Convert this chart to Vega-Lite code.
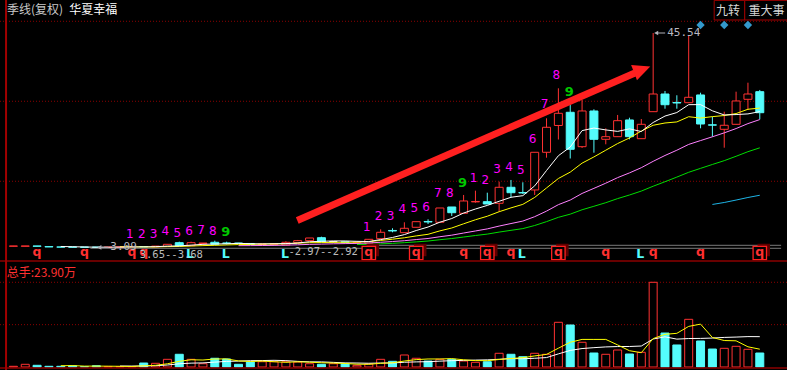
{
  "$schema": "https://vega.github.io/schema/vega-lite/v6.json",
  "background": "#000000",
  "padding": 0,
  "autosize": {"type": "none"},
  "width": 787,
  "height": 370,
  "config": {"view": {"stroke": null}, "text": {"font": "DejaVu Sans"}},
  "resolve": {"scale": {"y": "independent", "fill": "independent", "stroke": "independent", "color": "independent"}},
  "datasets": {
    "k": [
      {"i":0,"o":3.31,"c":3.37,"h":3.37,"l":3.31,"t":"r","v":1.2},
      {"i":1,"o":3.31,"c":3.37,"h":3.37,"l":3.31,"t":"r","v":4.6},
      {"i":2,"o":3.37,"c":3.31,"h":3.37,"l":3.31,"t":"c","v":2.9},
      {"i":3,"o":3.24,"c":3.18,"h":3.24,"l":3.18,"t":"c","v":1.2},
      {"i":4,"o":3.18,"c":3.14,"h":3.18,"l":3.13,"t":"c","v":1.2,"m5":3.27,"v5":2.2},
      {"i":5,"o":3.16,"c":3.12,"h":3.17,"l":3.11,"t":"c","v":2.2,"m5":3.22,"v5":2.4},
      {"i":6,"o":3.15,"c":3.11,"h":3.16,"l":3.10,"t":"c","v":0.5,"m5":3.17,"v5":1.5},
      {"i":7,"o":3.14,"c":3.11,"h":3.16,"l":3.09,"t":"c","v":2.2,"m5":3.13,"v5":1.5},
      {"i":8,"o":3.11,"c":3.15,"h":3.16,"l":3.10,"t":"r","v":0.5,"m5":3.13,"v5":1.4},
      {"i":9,"o":3.15,"c":3.20,"h":3.21,"l":3.14,"t":"r","v":0.5,"m5":3.14,"m10":3.21,"v5":1.2,"v10":1.7},
      {"i":10,"o":3.20,"c":3.26,"h":3.27,"l":3.19,"t":"r","v":0.5,"m5":3.17,"m10":3.20,"v5":0.9,"v10":1.6},
      {"i":11,"o":3.26,"c":3.21,"h":3.27,"l":3.20,"t":"c","v":6.8,"m5":3.19,"m10":3.18,"v5":2.0,"v10":1.8},
      {"i":12,"o":3.21,"c":3.34,"h":3.35,"l":3.20,"t":"r","v":6.3,"m5":3.23,"m10":3.18,"v5":2.9,"v10":2.2},
      {"i":13,"o":3.27,"c":3.70,"h":3.70,"l":3.27,"t":"r","v":13.1,"m5":3.34,"m10":3.24,"v5":5.5,"v10":3.4},
      {"i":14,"o":4.02,"c":3.43,"h":4.22,"l":3.43,"t":"c","v":21.7,"m5":3.39,"m10":3.27,"v5":9.7,"v10":5.5},
      {"i":15,"o":3.43,"c":4.02,"h":4.22,"l":3.43,"t":"r","v":13.1,"m5":3.54,"m10":3.36,"v5":12.3,"v10":6.6},
      {"i":16,"o":3.86,"c":3.96,"h":3.96,"l":3.86,"t":"r","v":5.6,"m5":3.69,"m10":3.44,"v5":11.9,"v10":7.0},
      {"i":17,"o":4.10,"c":3.70,"h":4.42,"l":3.70,"t":"c","v":14.9,"m5":3.76,"m10":3.50,"v5":13.7,"v10":8.3},
      {"i":18,"o":3.96,"c":3.90,"h":4.22,"l":3.66,"t":"c","v":13.7,"m5":3.80,"m10":3.57,"v5":13.8,"v10":9.6},
      {"i":19,"o":3.96,"c":3.86,"h":3.96,"l":3.86,"t":"c","v":4.6,"m5":3.89,"m10":3.64,"m20":3.43,"v5":10.4,"v10":10.1},
      {"i":20,"o":3.86,"c":3.66,"h":3.86,"l":3.66,"t":"c","v":8.5,"m5":3.82,"m10":3.68,"m20":3.44,"v5":9.4,"v10":10.8},
      {"i":21,"o":3.66,"c":3.76,"h":3.76,"l":3.66,"t":"r","v":9.0,"m5":3.78,"m10":3.74,"m20":3.46,"v5":10.1,"v10":11.0},
      {"i":22,"o":3.70,"c":3.82,"h":3.82,"l":3.70,"t":"r","v":9.0,"m5":3.80,"m10":3.78,"m20":3.48,"v5":9.0,"v10":11.4},
      {"i":23,"o":3.56,"c":4.10,"h":4.30,"l":3.56,"t":"r","v":9.0,"m5":3.84,"m10":3.82,"m20":3.53,"v5":8.0,"v10":10.9},
      {"i":24,"o":4.02,"c":4.42,"h":4.56,"l":4.02,"t":"r","v":8.5,"m5":3.95,"m10":3.92,"m20":3.60,"v5":8.9,"v10":9.6},
      {"i":25,"o":4.42,"c":4.95,"h":4.95,"l":4.42,"t":"r","v":5.6,"m5":4.21,"m10":4.02,"m20":3.69,"v5":8.2,"v10":8.8},
      {"i":26,"o":5.01,"c":4.16,"h":5.21,"l":4.16,"t":"c","v":4.6,"m5":4.29,"m10":4.04,"m20":3.74,"v5":7.3,"v10":8.7},
      {"i":27,"o":4.20,"c":4.20,"h":4.30,"l":4.02,"t":"w","v":5.6,"m5":4.37,"m10":4.09,"m20":3.80,"v5":6.7,"v10":7.9},
      {"i":28,"o":4.20,"c":4.06,"h":4.20,"l":4.06,"t":"c","v":5.1,"m5":4.36,"m10":4.10,"m20":3.84,"v5":6.0,"v10":7.0},
      {"i":29,"o":4.02,"c":4.10,"h":4.10,"l":4.02,"t":"r","v":2.9,"m5":4.29,"m10":4.12,"m20":3.88,"m30":3.66,"v5":4.8,"v10":6.8},
      {"i":30,"o":3.90,"c":4.69,"h":4.75,"l":3.90,"t":"r","v":5.1,"m5":4.24,"m10":4.23,"m20":3.96,"m30":3.70,"v5":4.6,"v10":6.4},
      {"i":31,"o":4.81,"c":6.08,"h":6.67,"l":4.81,"t":"r","v":13.1,"m5":4.63,"m10":4.46,"m20":4.10,"m30":3.79,"v5":6.3,"v10":6.8},
      {"i":32,"o":6.44,"c":6.34,"h":6.87,"l":6.08,"t":"c","v":9.7,"m5":5.05,"m10":4.71,"m20":4.25,"m30":3.89,"v5":7.2,"v10":6.9},
      {"i":33,"o":6.00,"c":6.87,"h":8.06,"l":6.00,"t":"r","v":20.5,"m5":5.62,"m10":4.99,"m20":4.41,"m30":4.02,"v5":10.2,"v10":8.1},
      {"i":34,"o":7.07,"c":8.18,"h":8.18,"l":7.07,"t":"r","v":14.9,"m5":6.43,"m10":5.36,"m20":4.64,"m30":4.18,"v5":12.6,"v10":8.7},
      {"i":35,"o":8.22,"c":8.12,"h":8.65,"l":7.72,"t":"c","v":10.2,"m5":7.12,"m10":5.68,"m20":4.85,"m30":4.35,"v5":13.7,"v10":9.1},
      {"i":36,"o":8.06,"c":10.89,"h":10.89,"l":8.06,"t":"r","v":13.1,"m5":8.08,"m10":6.36,"m20":5.20,"m30":4.61,"v5":13.7,"v10":10.0},
      {"i":37,"o":11.09,"c":9.96,"h":11.09,"l":9.31,"t":"c","v":13.1,"m5":8.80,"m10":6.93,"m20":5.51,"m30":4.84,"v5":14.3,"v10":10.8},
      {"i":38,"o":9.84,"c":12.28,"h":13.47,"l":9.84,"t":"r","v":10.2,"m5":9.89,"m10":7.76,"m20":5.93,"m30":5.14,"v5":12.3,"v10":11.3},
      {"i":39,"o":12.10,"c":12.18,"h":14.32,"l":11.94,"t":"r","v":8.0,"m5":10.69,"m10":8.56,"m20":6.34,"m30":5.44,"v5":10.9,"v10":11.8},
      {"i":40,"o":12.14,"c":11.68,"h":13.92,"l":11.68,"t":"c","v":9.0,"m5":11.40,"m10":9.26,"m20":6.75,"m30":5.72,"v5":10.8,"v10":12.2},
      {"i":41,"o":11.82,"c":14.99,"h":16.10,"l":10.16,"t":"r","v":23.4,"m5":12.22,"m10":10.15,"m20":7.31,"m30":6.12,"v5":12.8,"v10":13.2},
      {"i":42,"o":14.99,"c":13.92,"h":16.44,"l":13.01,"t":"c","v":21.7,"m5":13.01,"m10":10.91,"m20":7.81,"m30":6.47,"v5":14.5,"v10":14.4},
      {"i":43,"o":13.96,"c":13.86,"h":15.98,"l":13.66,"t":"c","v":17.6,"m5":13.33,"m10":11.61,"m20":8.30,"m30":6.81,"v5":15.9,"v10":14.1},
      {"i":44,"o":14.46,"c":21.92,"h":21.92,"l":13.47,"t":"r","v":23.4,"m5":15.27,"m10":12.98,"m20":9.17,"m30":7.42,"v5":18.9,"v10":14.9},
      {"i":45,"o":21.92,"c":26.87,"h":28.65,"l":20.85,"t":"r","v":21.7,"m5":18.31,"m10":14.86,"m20":10.27,"m30":8.19,"v5":21.5,"v10":16.1},
      {"i":46,"o":27.23,"c":29.64,"h":34.59,"l":24.45,"t":"r","v":76.3,"m5":21.24,"m10":16.73,"m20":11.55,"m30":9.04,"v5":32.1,"v10":22.4},
      {"i":47,"o":29.84,"c":22.51,"h":31.29,"l":20.69,"t":"c","v":71.7,"m5":22.96,"m10":17.99,"m20":12.46,"m30":9.67,"v5":42.2,"v10":28.3},
      {"i":48,"o":23.03,"c":30.10,"h":32.28,"l":22.77,"t":"r","v":42.2,"m5":26.21,"m10":19.77,"m20":13.77,"m30":10.54,"v5":47.1,"v10":31.5},
      {"i":49,"o":30.10,"c":24.49,"h":30.43,"l":21.84,"t":"c","v":23.9,"m5":26.72,"m10":21.00,"m20":14.78,"m30":11.23,"v5":47.1,"v10":33.0},
      {"i":50,"o":24.49,"c":25.01,"h":26.67,"l":23.50,"t":"r","v":21.7,"m5":26.35,"m10":22.33,"m20":15.80,"m30":11.94,"v5":47.1,"v10":34.3},
      {"i":51,"o":25.01,"c":28.18,"h":29.31,"l":25.01,"t":"r","v":29.0,"m5":26.06,"m10":23.65,"m20":16.90,"m30":12.75,"v5":37.7,"v10":34.9},
      {"i":52,"o":28.32,"c":25.01,"h":28.77,"l":24.49,"t":"c","v":22.2,"m5":26.56,"m10":24.76,"m20":17.84,"m30":13.46,"v5":27.8,"v10":35.0},
      {"i":53,"o":24.61,"c":27.46,"h":28.51,"l":24.61,"t":"r","v":25.1,"m5":26.03,"m10":26.12,"m20":18.87,"m30":14.24,"v5":24.4,"v10":35.8},
      {"i":54,"o":29.96,"c":33.46,"h":45.54,"l":29.96,"t":"r","v":144.6,"m5":27.82,"m10":27.27,"m20":20.13,"m30":15.20,"v5":48.5,"v10":47.8},
      {"i":55,"o":33.46,"c":31.34,"h":34.06,"l":30.55,"t":"c","v":58.0,"m5":29.09,"m10":27.72,"m20":21.29,"m30":16.09,"v5":55.8,"v10":51.5},
      {"i":56,"o":31.78,"c":31.68,"h":33.21,"l":30.55,"t":"c","v":37.6,"m5":29.79,"m10":27.93,"m20":22.33,"m30":17.01,"v5":57.5,"v10":47.6},
      {"i":57,"o":31.74,"c":32.81,"h":45.05,"l":31.74,"t":"r","v":81.4,"m5":31.35,"m10":28.96,"m20":23.48,"m30":17.96,"v5":69.3,"v10":48.6},
      {"i":58,"o":33.27,"c":27.52,"h":33.72,"l":26.67,"t":"c","v":44.4,"m5":31.36,"m10":28.70,"m20":24.24,"m30":18.74,"v5":73.2,"v10":48.8},
      {"i":59,"o":27.36,"c":27.29,"h":28.97,"l":25.01,"t":"c","v":30.7,"m5":30.13,"m10":28.98,"m20":24.99,"m30":19.51,"m60":11.59,"v5":50.4,"v10":49.4},
      {"i":60,"o":26.47,"c":27.27,"h":29.96,"l":22.83,"t":"r","v":31.9,"m5":29.31,"m10":29.20,"m20":25.77,"m30":20.26,"m60":11.98,"v5":45.2,"v10":50.5},
      {"i":61,"o":27.46,"c":32.08,"h":33.92,"l":27.46,"t":"r","v":35.3,"m5":29.39,"m10":29.59,"m20":26.62,"m30":21.13,"m60":12.46,"v5":44.7,"v10":51.1},
      {"i":62,"o":32.41,"c":33.46,"h":35.70,"l":30.30,"t":"r","v":30.2,"m5":29.52,"m10":30.44,"m20":27.60,"m30":22.04,"m60":12.97,"v5":34.5,"v10":51.9},
      {"i":63,"o":33.92,"c":29.76,"h":34.26,"l":28.45,"t":"c","v":23.9,"m5":29.97,"m10":30.67,"m20":28.40,"m30":22.80,"m60":13.41,"v5":30.4,"v10":51.8}
    ],
    "nine": [
      {"i":10,"n":"1","p":5.74},{"i":11,"n":"2","p":5.74},{"i":12,"n":"3","p":5.74},{"i":13,"n":"4","p":6.40},{"i":14,"n":"5","p":5.94},{"i":15,"n":"6","p":6.34},{"i":16,"n":"7","p":6.54},{"i":17,"n":"8","p":6.34},{"i":18,"n":"9","p":6.04},
      {"i":30,"n":"1","p":7.19},{"i":31,"n":"2","p":9.31},{"i":32,"n":"3","p":9.31},{"i":33,"n":"4","p":10.69},{"i":34,"n":"5","p":10.89},{"i":35,"n":"6","p":11.03},{"i":36,"n":"7","p":13.80},{"i":37,"n":"8","p":13.80},{"i":38,"n":"9","p":15.78},
      {"i":39,"n":"1","p":16.89},{"i":40,"n":"2","p":16.44},{"i":41,"n":"3","p":18.55},{"i":42,"n":"4","p":18.95},{"i":43,"n":"5","p":18.41},{"i":44,"n":"6","p":24.49},{"i":45,"n":"7","p":31.42},{"i":46,"n":"8","p":37.23},{"i":47,"n":"9","p":33.80}
    ],
    "mk": [
      {"i":2,"s":"q"},{"i":6,"s":"q"},{"i":10,"s":"q"},{"i":11,"s":"q"},{"i":30,"s":"q","b":1},{"i":34,"s":"q","b":1},{"i":38,"s":"q"},{"i":40,"s":"q","b":1},{"i":42,"s":"q"},{"i":46,"s":"q","b":1},{"i":50,"s":"q"},{"i":54,"s":"q"},{"i":58,"s":"q"},{"i":63,"s":"q","b":1},
      {"i":15,"s":"L"},{"i":18,"s":"L"},{"i":23,"s":"L"},{"i":43,"s":"L"},{"i":53,"s":"L"}
    ],
    "hilo": [{"i":54,"p":45.54,"s":"45.54"},{"i":7,"p":3.09,"s":"3.09"}],
    "grid": [{"p":47.86},{"p":32.02},{"p":16.18}],
    "glines": [{"i":6.5,"i2":64.8,"p":2.91},{"i":30,"i2":64.8,"p":3.50}],
    "arrow": [{"i":23.96,"p":8.42},{"i":52.46,"p":37.62}],
    "ahead": [{"i":53.07,"p":38.29}],
    "dia": [{"i":58},{"i":60},{"i":62}],
    "boxes": [{"i":59.15,"i2":61.73,"p":52.0,"p2":48.115},{"i":61.73,"i2":65.5,"p":52.0,"p2":48.115}],
    "btxt": [{"i":59.3,"p":49.86,"s":"九转"},{"i":62.05,"p":49.86,"s":"重大事"}]
  },
  "layer": [
    {
      "data": {"name": "grid"},
      "mark": {"type": "rule", "color": "#8B0000", "strokeWidth": 1, "strokeDash": [1, 2]},
      "encoding": {"y": {"field": "p", "type": "quantitative", "scale": {"domain": [-21.19, 52.075], "nice": false, "zero": false}, "axis": null}}
    },
    {
      "data": {"values": [{"v": 144.6}, {"v": 72.3}]},
      "mark": {"type": "rule", "color": "#8B0000", "strokeWidth": 1, "strokeDash": [1, 2]},
      "encoding": {"y": {"field": "v", "type": "quantitative", "scale": {"domain": [-5.12, 626.5], "nice": false, "zero": false}, "axis": null}}
    },
    {
      "data": {"name": "glines"},
      "mark": {"type": "rule", "color": "#7A7A7A", "strokeWidth": 1},
      "encoding": {
        "x": {"field": "i", "type": "quantitative", "scale": {"domain": [-0.7083, 64.875], "nice": false, "zero": false}, "axis": null},
        "x2": {"field": "i2"},
        "y": {"field": "p", "type": "quantitative", "scale": {"domain": [-21.19, 52.075], "nice": false, "zero": false}, "axis": null}
      }
    },
    {
      "data": {"name": "k"},
      "mark": {"type": "rule", "strokeWidth": 1},
      "encoding": {
        "x": {"field": "i", "type": "quantitative", "scale": {"domain": [-0.7083, 64.875], "nice": false, "zero": false}, "axis": null},
        "y": {"field": "l", "type": "quantitative", "scale": {"domain": [-21.19, 52.075], "nice": false, "zero": false}, "axis": null},
        "y2": {"field": "h"},
        "color": {"field": "t", "type": "nominal", "scale": {"domain": ["r", "c", "w"], "range": ["#FF3232", "#54FCFC", "#FFFFFF"]}, "legend": null}
      }
    },
    {
      "data": {"name": "k"},
      "mark": {"type": "bar", "size": 8, "strokeWidth": 1},
      "encoding": {
        "x": {"field": "i", "type": "quantitative", "scale": {"domain": [-0.7083, 64.875], "nice": false, "zero": false}, "axis": null},
        "y": {"field": "o", "type": "quantitative", "scale": {"domain": [-21.19, 52.075], "nice": false, "zero": false}, "axis": null},
        "y2": {"field": "c"},
        "fill": {"field": "t", "type": "nominal", "scale": {"domain": ["r", "c", "w"], "range": ["#000000", "#54FCFC", "#FFFFFF"]}, "legend": null},
        "stroke": {"field": "t", "type": "nominal", "scale": {"domain": ["r", "c", "w"], "range": ["#FF3232", "#54FCFC", "#FFFFFF"]}, "legend": null}
      }
    },
    {
      "data": {"name": "k"},
      "mark": {"type": "line", "color": "#1EB4E6", "strokeWidth": 1},
      "encoding": {
        "x": {"field": "i", "type": "quantitative", "scale": {"domain": [-0.7083, 64.875], "nice": false, "zero": false}, "axis": null},
        "y": {"field": "m60", "type": "quantitative", "scale": {"domain": [-21.19, 52.075], "nice": false, "zero": false}, "axis": null}
      }
    },
    {
      "data": {"name": "k"},
      "mark": {"type": "line", "color": "#00DD00", "strokeWidth": 1},
      "encoding": {
        "x": {"field": "i", "type": "quantitative", "scale": {"domain": [-0.7083, 64.875], "nice": false, "zero": false}, "axis": null},
        "y": {"field": "m30", "type": "quantitative", "scale": {"domain": [-21.19, 52.075], "nice": false, "zero": false}, "axis": null}
      }
    },
    {
      "data": {"name": "k"},
      "mark": {"type": "line", "color": "#FF80FF", "strokeWidth": 1},
      "encoding": {
        "x": {"field": "i", "type": "quantitative", "scale": {"domain": [-0.7083, 64.875], "nice": false, "zero": false}, "axis": null},
        "y": {"field": "m20", "type": "quantitative", "scale": {"domain": [-21.19, 52.075], "nice": false, "zero": false}, "axis": null}
      }
    },
    {
      "data": {"name": "k"},
      "mark": {"type": "line", "color": "#FFFF00", "strokeWidth": 1},
      "encoding": {
        "x": {"field": "i", "type": "quantitative", "scale": {"domain": [-0.7083, 64.875], "nice": false, "zero": false}, "axis": null},
        "y": {"field": "m10", "type": "quantitative", "scale": {"domain": [-21.19, 52.075], "nice": false, "zero": false}, "axis": null}
      }
    },
    {
      "data": {"name": "k"},
      "mark": {"type": "line", "color": "#FFFFFF", "strokeWidth": 1},
      "encoding": {
        "x": {"field": "i", "type": "quantitative", "scale": {"domain": [-0.7083, 64.875], "nice": false, "zero": false}, "axis": null},
        "y": {"field": "m5", "type": "quantitative", "scale": {"domain": [-21.19, 52.075], "nice": false, "zero": false}, "axis": null}
      }
    },
    {
      "data": {"name": "nine"},
      "transform": [{"filter": "datum.n != '9'"}],
      "mark": {"type": "text", "font": "DejaVu Sans", "fontSize": 12, "color": "#FF00FF", "dx": -2, "baseline": "middle"},
      "encoding": {
        "x": {"field": "i", "type": "quantitative", "scale": {"domain": [-0.7083, 64.875], "nice": false, "zero": false}, "axis": null},
        "y": {"field": "p", "type": "quantitative", "scale": {"domain": [-21.19, 52.075], "nice": false, "zero": false}, "axis": null},
        "text": {"field": "n"}
      }
    },
    {
      "data": {"name": "nine"},
      "transform": [{"filter": "datum.n == '9'"}],
      "mark": {"type": "text", "font": "DejaVu Sans", "fontSize": 13, "fontWeight": "bold", "color": "#00C800", "dx": -1, "baseline": "middle"},
      "encoding": {
        "x": {"field": "i", "type": "quantitative", "scale": {"domain": [-0.7083, 64.875], "nice": false, "zero": false}, "axis": null},
        "y": {"field": "p", "type": "quantitative", "scale": {"domain": [-21.19, 52.075], "nice": false, "zero": false}, "axis": null},
        "text": {"field": "n"}
      }
    },
    {
      "data": {"name": "mk"},
      "transform": [{"filter": "datum.b == 1"}],
      "mark": {"type": "point", "shape": "square", "filled": true, "size": 156, "color": "#5C0000", "opacity": 1, "xOffset": 4, "yOffset": -3},
      "encoding": {
        "x": {"field": "i", "type": "quantitative", "scale": {"domain": [-0.7083, 64.875], "nice": false, "zero": false}, "axis": null},
        "y": {"datum": 1.98, "type": "quantitative", "scale": {"domain": [-21.19, 52.075], "nice": false, "zero": false}, "axis": null}
      }
    },
    {
      "data": {"name": "mk"},
      "transform": [{"filter": "datum.b == 1"}],
      "mark": {"type": "point", "shape": "square", "filled": true, "size": 180, "fill": "#000000", "stroke": "#FF2020", "strokeWidth": 1.3, "opacity": 1},
      "encoding": {
        "x": {"field": "i", "type": "quantitative", "scale": {"domain": [-0.7083, 64.875], "nice": false, "zero": false}, "axis": null},
        "y": {"datum": 1.98, "type": "quantitative", "scale": {"domain": [-21.19, 52.075], "nice": false, "zero": false}, "axis": null}
      }
    },
    {
      "data": {"name": "mk"},
      "transform": [{"filter": "datum.s == 'q'"}],
      "mark": {"type": "text", "font": "DejaVu Sans", "fontSize": 12.5, "fontWeight": "bold", "color": "#FF3030", "baseline": "alphabetic"},
      "encoding": {
        "x": {"field": "i", "type": "quantitative", "scale": {"domain": [-0.7083, 64.875], "nice": false, "zero": false}, "axis": null},
        "y": {"datum": 1.29, "type": "quantitative", "scale": {"domain": [-21.19, 52.075], "nice": false, "zero": false}, "axis": null},
        "text": {"field": "s"}
      }
    },
    {
      "data": {"name": "mk"},
      "transform": [{"filter": "datum.s == 'L'"}],
      "mark": {"type": "text", "font": "DejaVu Sans", "fontSize": 12.5, "fontWeight": "bold", "color": "#54FCFC", "baseline": "alphabetic", "dx": -1},
      "encoding": {
        "x": {"field": "i", "type": "quantitative", "scale": {"domain": [-0.7083, 64.875], "nice": false, "zero": false}, "axis": null},
        "y": {"datum": 0.93, "type": "quantitative", "scale": {"domain": [-21.19, 52.075], "nice": false, "zero": false}, "axis": null},
        "text": {"field": "s"}
      }
    },
    {
      "data": {"values": [{"i": 11, "s": "3.65--3.68"}]},
      "mark": {"type": "text", "font": "DejaVu Sans Mono", "fontSize": 10.5, "color": "#BBBBBB", "align": "left", "baseline": "alphabetic", "dx": -4},
      "encoding": {
        "x": {"field": "i", "type": "quantitative", "scale": {"domain": [-0.7083, 64.875], "nice": false, "zero": false}, "axis": null},
        "y": {"datum": 0.93, "type": "quantitative", "scale": {"domain": [-21.19, 52.075], "nice": false, "zero": false}, "axis": null},
        "text": {"field": "s"}
      }
    },
    {
      "data": {"values": [{"i": 23, "s": "-2.97--2.92"}]},
      "mark": {"type": "text", "font": "DejaVu Sans Mono", "fontSize": 10.5, "color": "#BBBBBB", "align": "left", "baseline": "alphabetic", "dx": 2.5},
      "encoding": {
        "x": {"field": "i", "type": "quantitative", "scale": {"domain": [-0.7083, 64.875], "nice": false, "zero": false}, "axis": null},
        "y": {"datum": 1.59, "type": "quantitative", "scale": {"domain": [-21.19, 52.075], "nice": false, "zero": false}, "axis": null},
        "text": {"field": "s"}
      }
    },
    {
      "data": {"name": "hilo"},
      "mark": {"type": "rule", "color": "#B0B0B8", "strokeWidth": 1, "xOffset": 3, "x2Offset": 12},
      "encoding": {
        "x": {"field": "i", "type": "quantitative", "scale": {"domain": [-0.7083, 64.875], "nice": false, "zero": false}, "axis": null},
        "x2": {"field": "i"},
        "y": {"field": "p", "type": "quantitative", "scale": {"domain": [-21.19, 52.075], "nice": false, "zero": false}, "axis": null}
      }
    },
    {
      "data": {"name": "hilo"},
      "mark": {"type": "point", "shape": "triangle-left", "filled": true, "size": 22, "color": "#B0B0B8", "opacity": 1, "xOffset": 3},
      "encoding": {
        "x": {"field": "i", "type": "quantitative", "scale": {"domain": [-0.7083, 64.875], "nice": false, "zero": false}, "axis": null},
        "y": {"field": "p", "type": "quantitative", "scale": {"domain": [-21.19, 52.075], "nice": false, "zero": false}, "axis": null}
      }
    },
    {
      "data": {"name": "hilo"},
      "mark": {"type": "text", "font": "DejaVu Sans Mono", "fontSize": 11, "color": "#B8B8C0", "align": "left", "baseline": "middle", "dx": 14},
      "encoding": {
        "x": {"field": "i", "type": "quantitative", "scale": {"domain": [-0.7083, 64.875], "nice": false, "zero": false}, "axis": null},
        "y": {"field": "p", "type": "quantitative", "scale": {"domain": [-21.19, 52.075], "nice": false, "zero": false}, "axis": null},
        "text": {"field": "s"}
      }
    },
    {
      "data": {"name": "arrow"},
      "mark": {"type": "line", "color": "#FF2020", "strokeWidth": 7, "strokeCap": "butt"},
      "encoding": {
        "x": {"field": "i", "type": "quantitative", "scale": {"domain": [-0.7083, 64.875], "nice": false, "zero": false}, "axis": null},
        "y": {"field": "p", "type": "quantitative", "scale": {"domain": [-21.19, 52.075], "nice": false, "zero": false}, "axis": null}
      }
    },
    {
      "data": {"name": "ahead"},
      "mark": {"type": "point", "shape": "M-1,-0.94L1,0L-1,0.94Z", "filled": true, "size": 300, "angle": -21, "color": "#FF2020", "opacity": 1},
      "encoding": {
        "x": {"field": "i", "type": "quantitative", "scale": {"domain": [-0.7083, 64.875], "nice": false, "zero": false}, "axis": null},
        "y": {"field": "p", "type": "quantitative", "scale": {"domain": [-21.19, 52.075], "nice": false, "zero": false}, "axis": null}
      }
    },
    {
      "data": {"name": "dia"},
      "mark": {"type": "point", "shape": "diamond", "filled": true, "size": 70, "color": "#3399CC", "opacity": 1},
      "encoding": {
        "x": {"field": "i", "type": "quantitative", "scale": {"domain": [-0.7083, 64.875], "nice": false, "zero": false}, "axis": null},
        "y": {"datum": 47.13, "type": "quantitative", "scale": {"domain": [-21.19, 52.075], "nice": false, "zero": false}, "axis": null}
      }
    },
    {
      "data": {"name": "boxes"},
      "mark": {"type": "rect", "fill": "#000000", "stroke": "#A00000", "strokeWidth": 1},
      "encoding": {
        "x": {"field": "i", "type": "quantitative", "scale": {"domain": [-0.7083, 64.875], "nice": false, "zero": false}, "axis": null},
        "x2": {"field": "i2"},
        "y": {"field": "p", "type": "quantitative", "scale": {"domain": [-21.19, 52.075], "nice": false, "zero": false}, "axis": null},
        "y2": {"field": "p2"}
      }
    },
    {
      "data": {"name": "btxt"},
      "mark": {"type": "text", "font": "Noto Sans CJK SC", "fontSize": 12, "color": "#D8D8D8", "align": "left", "baseline": "middle"},
      "encoding": {
        "x": {"field": "i", "type": "quantitative", "scale": {"domain": [-0.7083, 64.875], "nice": false, "zero": false}, "axis": null},
        "y": {"field": "p", "type": "quantitative", "scale": {"domain": [-21.19, 52.075], "nice": false, "zero": false}, "axis": null},
        "text": {"field": "s"}
      }
    },
    {
      "data": {"values": [{"i": -0.54, "s": "季线(复权)"}]},
      "mark": {"type": "text", "font": "Noto Sans CJK SC", "fontSize": 12, "color": "#C8C8C8", "align": "left", "baseline": "middle"},
      "encoding": {
        "x": {"field": "i", "type": "quantitative", "scale": {"domain": [-0.7083, 64.875], "nice": false, "zero": false}, "axis": null},
        "y": {"datum": 50.1, "type": "quantitative", "scale": {"domain": [-21.19, 52.075], "nice": false, "zero": false}, "axis": null},
        "text": {"field": "s"}
      }
    },
    {
      "data": {"values": [{"i": 4.71, "s": "华夏幸福"}]},
      "mark": {"type": "text", "font": "Noto Sans CJK SC", "fontSize": 12, "color": "#FFFFFF", "align": "left", "baseline": "middle"},
      "encoding": {
        "x": {"field": "i", "type": "quantitative", "scale": {"domain": [-0.7083, 64.875], "nice": false, "zero": false}, "axis": null},
        "y": {"datum": 50.1, "type": "quantitative", "scale": {"domain": [-21.19, 52.075], "nice": false, "zero": false}, "axis": null},
        "text": {"field": "s"}
      }
    },
    {
      "data": {"values": [{}]},
      "mark": {"type": "rule", "color": "#8B0000", "strokeWidth": 1.5},
      "encoding": {"y": {"datum": 0.40, "type": "quantitative", "scale": {"domain": [-21.19, 52.075], "nice": false, "zero": false}, "axis": null}}
    },
    {
      "data": {"name": "k"},
      "mark": {"type": "bar", "size": 8, "strokeWidth": 1},
      "encoding": {
        "x": {"field": "i", "type": "quantitative", "scale": {"domain": [-0.7083, 64.875], "nice": false, "zero": false}, "axis": null},
        "y": {"field": "v", "type": "quantitative", "stack": null, "scale": {"domain": [-5.12, 626.5], "nice": false, "zero": false}, "axis": null},
        "y2": {"datum": 0},
        "fill": {"field": "t", "type": "nominal", "scale": {"domain": ["r", "c", "w"], "range": ["#000000", "#54FCFC", "#000000"]}, "legend": null},
        "stroke": {"field": "t", "type": "nominal", "scale": {"domain": ["r", "c", "w"], "range": ["#FF3232", "#54FCFC", "#FF3232"]}, "legend": null}
      }
    },
    {
      "data": {"name": "k"},
      "mark": {"type": "line", "color": "#FFFFFF", "strokeWidth": 1},
      "encoding": {
        "x": {"field": "i", "type": "quantitative", "scale": {"domain": [-0.7083, 64.875], "nice": false, "zero": false}, "axis": null},
        "y": {"field": "v10", "type": "quantitative", "scale": {"domain": [-5.12, 626.5], "nice": false, "zero": false}, "axis": null}
      }
    },
    {
      "data": {"name": "k"},
      "mark": {"type": "line", "color": "#FFFF00", "strokeWidth": 1},
      "encoding": {
        "x": {"field": "i", "type": "quantitative", "scale": {"domain": [-0.7083, 64.875], "nice": false, "zero": false}, "axis": null},
        "y": {"field": "v5", "type": "quantitative", "scale": {"domain": [-5.12, 626.5], "nice": false, "zero": false}, "axis": null}
      }
    },
    {
      "data": {"values": [{"i": -0.57, "s": "总手:23.90万"}]},
      "mark": {"type": "text", "font": "Noto Sans CJK SC", "fontSize": 12, "color": "#FF3030", "align": "left", "baseline": "middle"},
      "encoding": {
        "x": {"field": "i", "type": "quantitative", "scale": {"domain": [-0.7083, 64.875], "nice": false, "zero": false}, "axis": null},
        "y": {"datum": 161.3, "type": "quantitative", "scale": {"domain": [-5.12, 626.5], "nice": false, "zero": false}, "axis": null},
        "text": {"field": "s"}
      }
    },
    {
      "data": {"values": [{}]},
      "mark": {"type": "rule", "color": "#8B0000", "strokeWidth": 1.5},
      "encoding": {"y": {"datum": -1.7, "type": "quantitative", "scale": {"domain": [-5.12, 626.5], "nice": false, "zero": false}, "axis": null}}
    },
    {
      "data": {"values": [{}]},
      "mark": {"type": "rule", "color": "#A00000", "strokeWidth": 2},
      "encoding": {"x": {"datum": -0.62, "type": "quantitative", "scale": {"domain": [-0.7083, 64.875], "nice": false, "zero": false}, "axis": null}}
    }
  ]
}
